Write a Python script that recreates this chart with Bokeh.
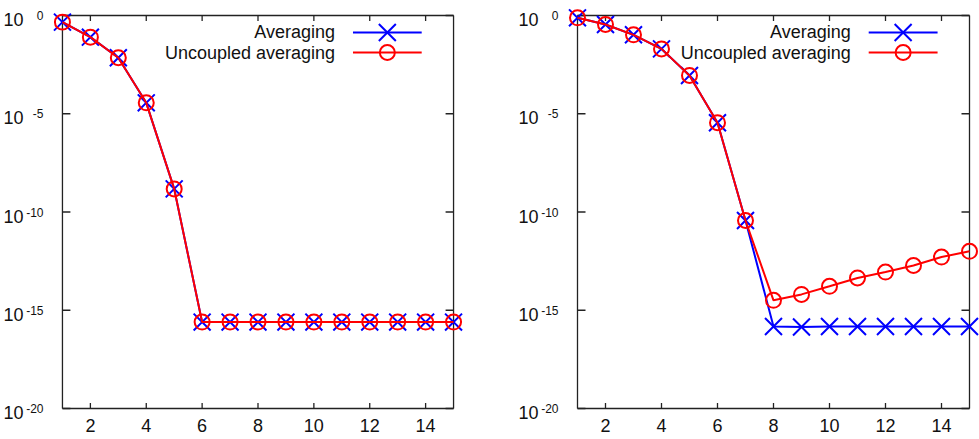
from bokeh.plotting import figure
from bokeh.layouts import row
from bokeh.models import FixedTicker, CustomJSTickFormatter, LogAxis
from bokeh.embed import file_html
from bokeh.resources import INLINE
from bokeh.core.properties import value

iterations = [1, 2, 3, 4, 5, 6, 7, 8, 9, 10, 11, 12, 13, 14, 15]

left_averaging = [0.46, 0.079, 0.0071, 3.6e-5, 1.5e-9, 2.5e-16, 2.5e-16, 2.5e-16,
                  2.5e-16, 2.5e-16, 2.5e-16, 2.5e-16, 2.5e-16, 2.5e-16, 2.5e-16]
left_uncoupled = [0.46, 0.079, 0.0071, 3.6e-5, 1.5e-9, 2.5e-16, 2.5e-16, 2.5e-16,
                  2.5e-16, 2.5e-16, 2.5e-16, 2.5e-16, 2.5e-16, 2.5e-16, 2.5e-16]

right_averaging = [0.76, 0.35, 0.104, 0.020, 8.9e-4, 3.5e-6, 3.7e-11, 1.5e-16,
                   1.4e-16, 1.5e-16, 1.5e-16, 1.5e-16, 1.5e-16, 1.5e-16, 1.5e-16]
right_uncoupled = [0.76, 0.35, 0.104, 0.020, 8.9e-4, 3.5e-6, 3.7e-11, 3.2e-15,
                   6.4e-15, 1.65e-14, 4.4e-14, 8.8e-14, 1.9e-13, 5.1e-13, 1.0e-12]

x_min, x_max = 1, 15
y_min_exp, y_max_exp = -20, 0
x_ticks = [2, 4, 6, 8, 10, 12, 14]
y_ticks = [1e-20, 1e-15, 1e-10, 1e-5, 1e0]
series_labels = ["Averaging", "Uncoupled averaging"]

FONT = "Liberation Sans"
BLUE = "#0000ff"
RED = "#ff0000"
TXT = "#111111"
BORDER = "#222222"

FIG_H = 439
BORDER_TOP = 5
BORDER_BOTTOM = 26
EXT_TOP, EXT_BOTTOM, EXT_SIDE = 10, 5, 10   # frame padding beyond the drawn box (px)
BOX_H = FIG_H - BORDER_TOP - BORDER_BOTTOM - EXT_TOP - EXT_BOTTOM


def make_panel(avg, unc, width, border_left, border_right):
    frame_w = width - border_left - border_right
    box_w = frame_w - 2 * EXT_SIDE
    ppu = box_w / (x_max - x_min)                 # px per x unit
    ppd = BOX_H / (y_max_exp - y_min_exp)         # px per decade
    xr = (x_min - EXT_SIDE / ppu, x_max + EXT_SIDE / ppu)
    yr = (10 ** (y_min_exp - EXT_BOTTOM / ppd), 10 ** (y_max_exp + EXT_TOP / ppd))

    p = figure(width=width, height=FIG_H, x_range=xr, y_range=yr,
               y_axis_type="log", output_backend="svg", toolbar_location=None,
               min_border_left=border_left, min_border_right=border_right,
               min_border_top=BORDER_TOP, min_border_bottom=BORDER_BOTTOM)
    p.background_fill_color = "white"
    p.border_fill_color = "white"
    p.grid.visible = False
    p.outline_line_color = None

    # x axis: labels only (box and ticks drawn below)
    ax = p.xaxis[0]
    ax.ticker = FixedTicker(ticks=x_ticks)
    ax.axis_line_color = None
    ax.major_tick_in = 0
    ax.major_tick_out = 0
    ax.minor_tick_in = 0
    ax.minor_tick_out = 0
    ax.major_label_text_font = FONT
    ax.major_label_text_font_size = "18px"
    ax.major_label_text_color = TXT
    ax.major_label_standoff = 5

    # y axis labels: inner axis = exponent, outer axis = "10"
    ex = p.yaxis[0]
    ex.ticker = FixedTicker(ticks=y_ticks)
    ex.formatter = CustomJSTickFormatter(code="return String(Math.round(Math.log10(tick)));")
    ten = LogAxis(ticker=FixedTicker(ticks=[t * 10 ** (-4 / ppd) for t in y_ticks]),
                  formatter=CustomJSTickFormatter(code="return '10';"))
    p.add_layout(ten, "left")
    for a, fs, so in ((ex, "12px", 9), (ten, "18px", 0)):
        a.axis_line_color = None
        a.major_tick_in = 0
        a.major_tick_out = 0
        a.minor_tick_in = 0
        a.minor_tick_out = 0
        a.major_label_text_font = FONT
        a.major_label_text_font_size = fs
        a.major_label_text_color = TXT
        a.major_label_standoff = so

    y_lo, y_hi = 10 ** y_min_exp, 10 ** y_max_exp
    # plot box
    p.segment(x0=[x_min, x_min, x_min, x_max], y0=[y_lo, y_hi, y_lo, y_lo],
              x1=[x_max, x_max, x_min, x_max], y1=[y_lo, y_hi, y_hi, y_hi],
              line_color=BORDER, line_width=1.3)
    # inward ticks on all four sides (gnuplot style)
    xt_len = 10 ** (-5.5 / ppd)
    yt_len = 8 / ppu
    n = len(x_ticks)
    p.segment(x0=x_ticks, y0=[y_lo] * n, x1=x_ticks, y1=[y_lo / xt_len] * n,
              line_color=BORDER, line_width=1.3)
    p.segment(x0=x_ticks, y0=[y_hi] * n, x1=x_ticks, y1=[y_hi * xt_len] * n,
              line_color=BORDER, line_width=1.3)
    m = len(y_ticks)
    p.segment(x0=[x_min] * m, y0=y_ticks, x1=[x_min + yt_len] * m, y1=y_ticks,
              line_color=BORDER, line_width=1.3)
    p.segment(x0=[x_max] * m, y0=y_ticks, x1=[x_max - yt_len] * m, y1=y_ticks,
              line_color=BORDER, line_width=1.3)

    p.line(iterations, avg, line_color=BLUE, line_width=2)
    p.scatter(iterations, avg, marker="x", size=24, line_color=BLUE, line_width=2)
    p.line(iterations, unc, line_color=RED, line_width=2)
    p.scatter(iterations, unc, marker="circle", size=15, line_color=RED,
              fill_color=None, line_width=2)

    # gnuplot-style key: text right-aligned, sample to the right
    key_text_x = 10.76
    key_line = (11.40, 13.86)
    key_mark = 12.63
    key_rows = [10 ** -0.865, 10 ** -1.883]
    colors = [BLUE, RED]
    markers = ["x", "circle"]
    sizes = [24, 15]
    for lbl, yk, c, mk, s in zip(series_labels, key_rows, colors, markers, sizes):
        p.text(x=[key_text_x], y=[yk], text=[lbl], text_align="right",
               text_baseline="middle", text_font=value(FONT),
               text_font_size="18px", text_color=TXT)
        p.line(x=list(key_line), y=[yk, yk], line_color=c, line_width=2)
        p.scatter(x=[key_mark], y=[yk], marker=mk, size=s, line_color=c,
                  fill_color=None, line_width=2)
    return p


p1 = make_panel(left_averaging, left_uncoupled, 500, 50, 37)
p2 = make_panel(right_averaging, right_uncoupled, 479, 67, 0)

layout = row(p1, p2)
open("out.html", "w").write(file_html(layout, INLINE))
